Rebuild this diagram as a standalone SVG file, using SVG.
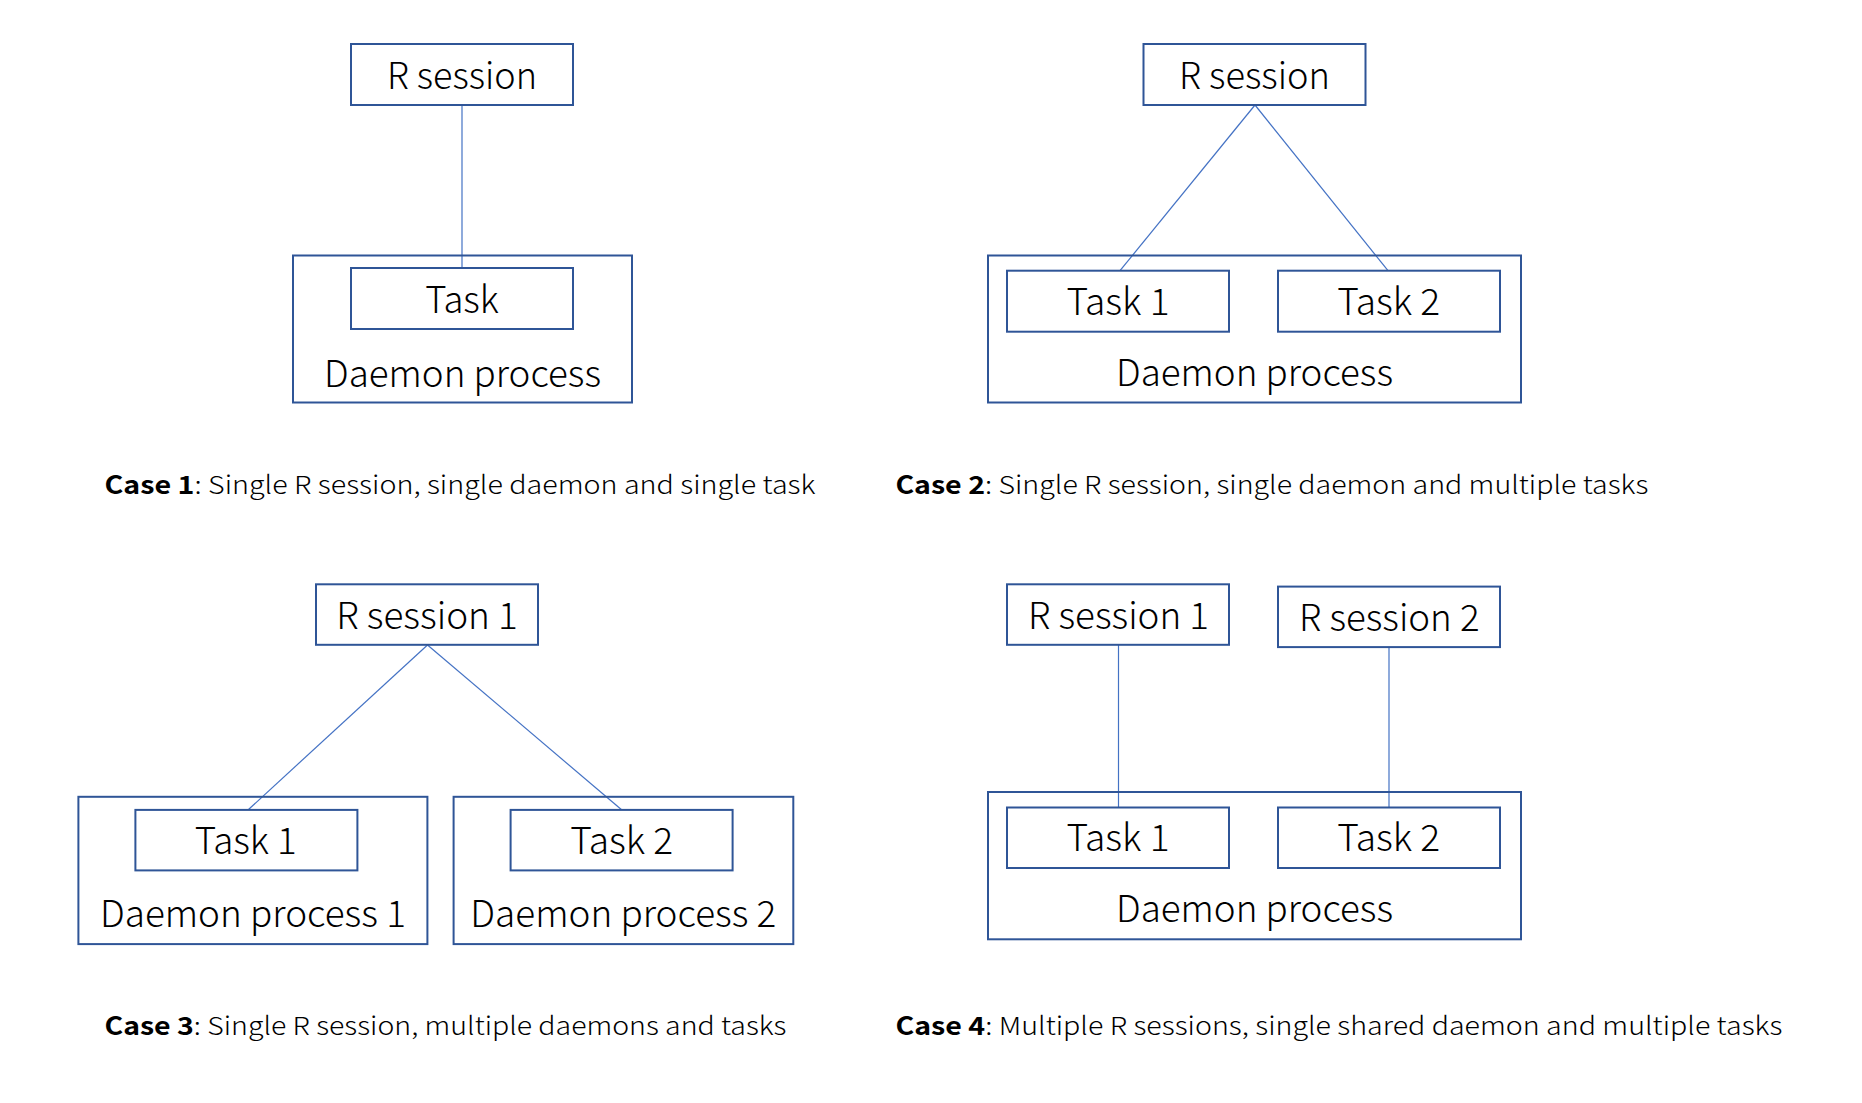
<svg xmlns="http://www.w3.org/2000/svg" width="1862" height="1103" viewBox="0 0 1862 1103">
<style>
.box{fill:none;stroke:#2F5597;stroke-width:2}
.con{stroke:#4472C4;stroke-width:1.2;fill:none}
.lbl{font-family:"Noto Sans CJK SC","Noto Sans",sans-serif;font-size:37px;font-weight:300;fill:#000;text-anchor:middle}
.cap{font-family:"Noto Sans CJK SC","Noto Sans",sans-serif;font-size:25px;font-weight:300;fill:#000}
.b{font-weight:bold}
</style>
<rect width="1862" height="1103" fill="#fff"/>
<g id="connectors">
<line class="con" x1="462" y1="105" x2="462" y2="268"/>
<line class="con" x1="1255" y1="105" x2="1120" y2="270.7"/>
<line class="con" x1="1255" y1="105" x2="1388" y2="270.7"/>
<line class="con" x1="427.5" y1="645" x2="248.5" y2="809.5"/>
<line class="con" x1="427.5" y1="645" x2="621.3" y2="809.5"/>
<line class="con" x1="1118.5" y1="645" x2="1118.5" y2="807.5"/>
<line class="con" x1="1389" y1="647" x2="1389" y2="807.5"/>
</g>
<!-- Case 1 -->
<g id="c1-daemon"><rect class="box" x="293" y="255.5" width="339" height="147"/><text class="lbl" x="462.5" y="386.5" textLength="277" lengthAdjust="spacingAndGlyphs">Daemon process</text></g>
<g id="c1-session"><rect class="box" x="351" y="44" width="222" height="61"/><text class="lbl" x="462" y="89.3" textLength="150" lengthAdjust="spacingAndGlyphs">R session</text></g>
<g id="c1-task"><rect class="box" x="351" y="268" width="222" height="61"/><text class="lbl" x="462" y="312.7" textLength="73.6" lengthAdjust="spacingAndGlyphs">Task</text></g>
<!-- Case 2 -->
<g id="c2-daemon"><rect class="box" x="988" y="255.5" width="533" height="147"/><text class="lbl" x="1254.5" y="386" textLength="277" lengthAdjust="spacingAndGlyphs">Daemon process</text></g>
<g id="c2-session"><rect class="box" x="1143.5" y="44" width="222" height="61"/><text class="lbl" x="1254.5" y="89.3" textLength="151" lengthAdjust="spacingAndGlyphs">R session</text></g>
<g id="c2-task1"><rect class="box" x="1007" y="270.7" width="222" height="61"/><text class="lbl" x="1118" y="315" textLength="103" lengthAdjust="spacingAndGlyphs">Task 1</text></g>
<g id="c2-task2"><rect class="box" x="1278" y="270.7" width="222" height="61"/><text class="lbl" x="1388.7" y="315" textLength="103" lengthAdjust="spacingAndGlyphs">Task 2</text></g>
<!-- Case 3 -->
<g id="c3-session"><rect class="box" x="316" y="584.3" width="222" height="60.5"/><text class="lbl" x="427" y="629" textLength="181.7" lengthAdjust="spacingAndGlyphs">R session 1</text></g>
<g id="c3-daemon1"><rect class="box" x="78.4" y="796.8" width="349" height="147.3"/><text class="lbl" x="252.9" y="927.3" textLength="306" lengthAdjust="spacingAndGlyphs">Daemon process 1</text></g>
<g id="c3-task1"><rect class="box" x="135.4" y="809.9" width="222" height="60.5"/><text class="lbl" x="245.8" y="854.3" textLength="102" lengthAdjust="spacingAndGlyphs">Task 1</text></g>
<g id="c3-daemon2"><rect class="box" x="453.6" y="796.8" width="339.7" height="147.3"/><text class="lbl" x="623.3" y="927.3" textLength="306" lengthAdjust="spacingAndGlyphs">Daemon process 2</text></g>
<g id="c3-task2"><rect class="box" x="510.6" y="809.9" width="222" height="60.5"/><text class="lbl" x="621.7" y="854.3" textLength="103" lengthAdjust="spacingAndGlyphs">Task 2</text></g>
<!-- Case 4 -->
<g id="c4-session1"><rect class="box" x="1007" y="584.3" width="222" height="60.5"/><text class="lbl" x="1118.5" y="629" textLength="181" lengthAdjust="spacingAndGlyphs">R session 1</text></g>
<g id="c4-session2"><rect class="box" x="1278" y="586.6" width="222" height="60.5"/><text class="lbl" x="1389.3" y="631" textLength="180.5" lengthAdjust="spacingAndGlyphs">R session 2</text></g>
<g id="c4-daemon"><rect class="box" x="988" y="792" width="533" height="147.3"/><text class="lbl" x="1254.5" y="921.7" textLength="277" lengthAdjust="spacingAndGlyphs">Daemon process</text></g>
<g id="c4-task1"><rect class="box" x="1007" y="807.5" width="222" height="60.5"/><text class="lbl" x="1118" y="851" textLength="103" lengthAdjust="spacingAndGlyphs">Task 1</text></g>
<g id="c4-task2"><rect class="box" x="1278" y="807.5" width="222" height="60.5"/><text class="lbl" x="1388.7" y="851" textLength="103" lengthAdjust="spacingAndGlyphs">Task 2</text></g>
<!-- Captions -->
<g id="captions">
<text class="cap" x="104.5" y="494" textLength="711" lengthAdjust="spacingAndGlyphs"><tspan class="b">Case 1</tspan>: Single R session, single daemon and single task</text>
<text class="cap" x="895.4" y="494" textLength="753" lengthAdjust="spacingAndGlyphs"><tspan class="b">Case 2</tspan>: Single R session, single daemon and multiple tasks</text>
<text class="cap" x="104.5" y="1034.5" textLength="682" lengthAdjust="spacingAndGlyphs"><tspan class="b">Case 3</tspan>: Single R session, multiple daemons and tasks</text>
<text class="cap" x="895.4" y="1034.5" textLength="887" lengthAdjust="spacingAndGlyphs"><tspan class="b">Case 4</tspan>: Multiple R sessions, single shared daemon and multiple tasks</text>
</g>
</svg>
